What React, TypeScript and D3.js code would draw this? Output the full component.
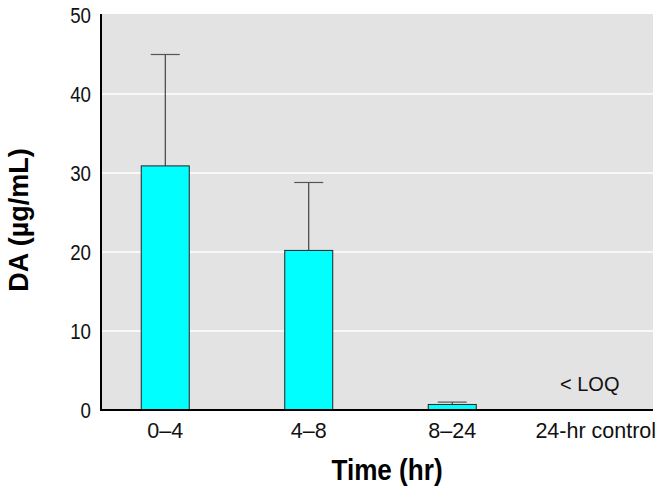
import * as React from "react"
import * as d3 from "d3"

const categories = ["0–4", "4–8", "8–24", "24-hr control"]
const means = [30.9, 20.2, 0.7, null]
const errors = [14.1, 8.6, 0.3, null]
const yTicks = [0, 10, 20, 30, 40, 50]

const W = 662
const H = 492
const margin = { top: 15, right: 9, bottom: 82, left: 101 }
const font = "'Liberation Sans Narrow', 'Arial Narrow', 'Liberation Sans', sans-serif"

export default function App(): JSX.Element {
    const plotW = W - margin.left - margin.right
    const plotH = H - margin.top - margin.bottom

    // category bands, slightly offset so centres sit where the original has them
    const x = d3.scaleBand<string>()
        .domain(categories)
        .range([-7.5, plotW + 14.5])
        .padding(0)

    const y = d3.scaleLinear()
        .domain([0, 50])
        .range([plotH, 0])

    const barW = 48
    const capW = 29
    const cx = (c: string): number => (x(c) as number) + x.bandwidth() / 2

    return (
        <svg width={W} height={H} style={{ position: "absolute", left: 0, top: 0, background: "#fff" }}>
            <g transform={"translate(" + margin.left + "," + margin.top + ")"}>
                <rect x={0} y={-1} width={plotW} height={plotH + 1} fill="#e3e3e3" />

                {/* gridlines */}
                {yTicks.filter(t => t > 0 && t < 50).map(t => (
                    <line key={t} x1={0} x2={plotW} y1={y(t)} y2={y(t)} stroke="#fff" strokeWidth={1.5} />
                ))}

                {/* bars + error bars */}
                {categories.map((c, i) => {
                    const v = means[i]
                    const e = errors[i]
                    if (v == null || e == null) return null
                    return (
                        <g key={c}>
                            <line x1={cx(c)} x2={cx(c)} y1={y(v)} y2={y(v + e)} stroke="#222" strokeWidth={1} />
                            <line x1={cx(c) - capW / 2} x2={cx(c) + capW / 2} y1={y(v + e)} y2={y(v + e)} stroke="#555" strokeWidth={1.2} />
                            <rect x={cx(c) - barW / 2} y={y(v)} width={barW} height={plotH - y(v)}
                                fill="#00ffff" stroke="#222" strokeWidth={1} />
                        </g>
                    )
                })}

                {/* < LOQ note for control */}
                <text x={cx(categories[3]) - 6} y={y(2.4)}
                    textAnchor="middle" fontFamily={font} fontSize={20} fill="#111">{"< LOQ"}</text>

                {/* axes */}
                <line x1={0} x2={0} y1={-1} y2={plotH} stroke="#000" strokeWidth={2} />
                <line x1={-1} x2={plotW} y1={plotH} y2={plotH} stroke="#000" strokeWidth={2} />

                {yTicks.map(t => (
                    <text key={t} transform={"translate(-10," + y(t) + ") scale(0.85,1)"} dy="0.36em" textAnchor="end"
                        fontFamily={font} fontSize={22} fill="#111">{t}</text>
                ))}

                {categories.map(c => (
                    <text key={c} x={cx(c)} y={plotH + 28}
                        textAnchor="middle" fontFamily={font} fontSize={21.5} fill="#111">{c}</text>
                ))}
            </g>

            {/* axis titles */}
            <text transform={"translate(28,220) rotate(-90)"}
                textAnchor="middle" fontFamily={font} fontWeight="bold" fontSize={27} fill="#000">DA (µg/mL)</text>
            <text transform="translate(387,480) scale(0.87,1)" textAnchor="middle" fontFamily={font}
                fontWeight="bold" fontSize={30} fill="#000">Time (hr)</text>
        </svg>
    )
}
